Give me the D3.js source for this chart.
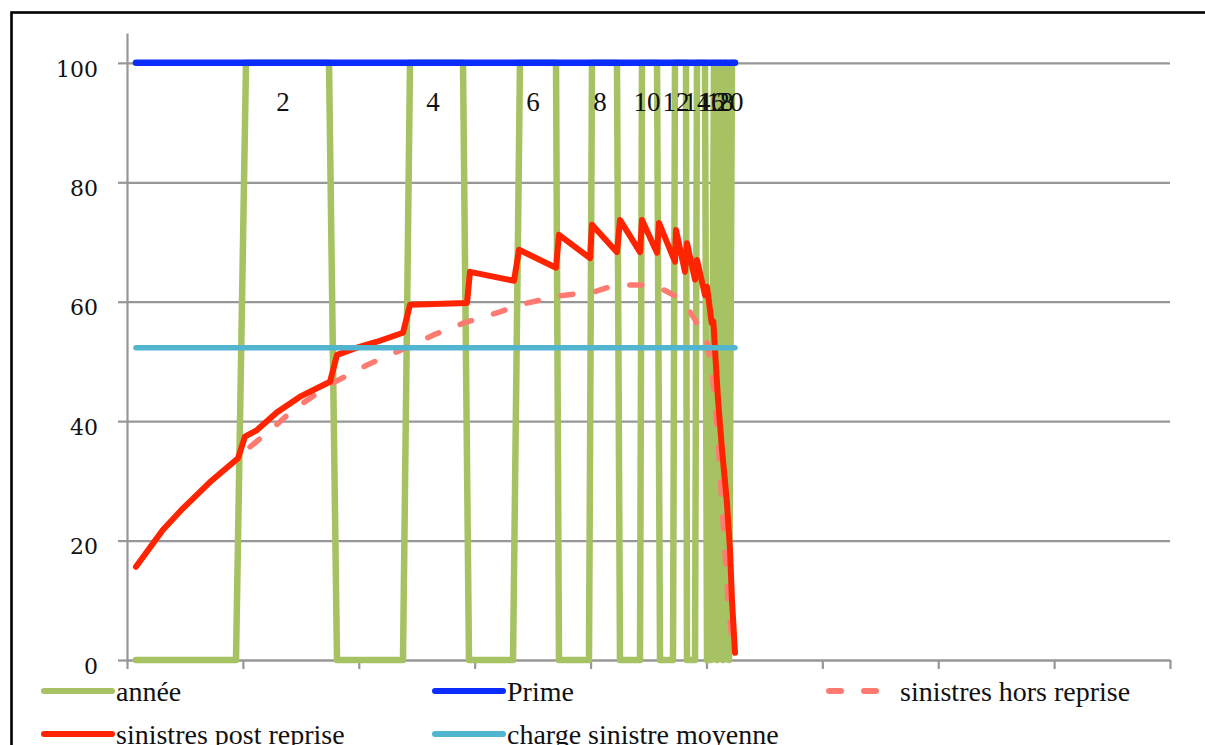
<!DOCTYPE html>
<html>
<head>
<meta charset="utf-8">
<script src="https://cdn.jsdelivr.net/npm/d3@7"></script>
<style>
  html, body { margin: 0; padding: 0; background: #fff; }
  svg { display: block; }
</style>
</head>
<body>
<svg id="chart" width="1205" height="745"></svg>
<script>
// Y axis ticks and legend labels
const yTicks = [0, 20, 40, 60, 80, 100];
const legendLabels = ["année", "Prime", "sinistres hors reprise", "sinistres post reprise", "charge sinistre moyenne"];

// "année": alternating 0 / 100 plateaus marking each year [t, value]
const annee = [
  [1.55, 0], [18.81, 0], [20.54, 100], [34.86, 100], [36.24, 0], [47.63, 0],
  [48.84, 100], [57.99, 100], [59.02, 0], [66.62, 0], [67.82, 100], [74.04, 100],
  [74.55, 0], [79.73, 0], [80.25, 100], [84.56, 100], [85.08, 0], [88.53, 0],
  [88.88, 100], [91.47, 100], [91.99, 0], [94.23, 0], [94.57, 100], [96.47, 100],
  [96.64, 0], [98.03, 0], [98.37, 100], [99.75, 100], [100.10, 0], [100.79, 0],
  [101.30, 100], [101.82, 0], [102.34, 100], [102.86, 0], [103.37, 100],
  [103.89, 0], [104.41, 100], [104.93, 100]
];

// Even year numbers shown on the "année" plateaus, with their t position
const yearNumbers = [2, 4, 6, 8, 10, 12, 14, 16, 18, 20];
const yearNumberT = [26.92, 52.81, 70.07, 81.63, 89.74, 94.74, 98.37, 100.79, 102.35, 104.07];

// "Prime": constant premium level
const primeT = [1.55, 104.93];
const primeValues = [100, 100];

// "charge sinistre moyenne": constant average claim charge
const chargeT = [1.55, 104.93];
const chargeValues = [52.3, 52.3];

// "sinistres post reprise" [t, value]
const postReprise = [
  [1.55, 15.6], [6.21, 21.8], [9.66, 25.4], [14.32, 29.8], [19.16, 33.8],
  [20.36, 37.4], [22.44, 38.5], [25.89, 41.5], [29.86, 44.1], [35.04, 46.6],
  [36.25, 51.1], [39.69, 52.3], [43.14, 53.3], [47.63, 54.8],
  [48.84, 59.5], [58.68, 59.8],
  [59.19, 65.0], [66.79, 63.5],
  [67.65, 68.7], [74.04, 65.7],
  [74.55, 71.2], [79.90, 67.3],
  [80.25, 72.9], [84.56, 68.3],
  [85.08, 73.7], [88.53, 68.3],
  [88.88, 73.7], [91.47, 68.2],
  [91.81, 73.2], [94.57, 66.7],
  [94.75, 72.0], [96.30, 65.0],
  [96.64, 69.8], [98.02, 63.7],
  [98.37, 67.0], [99.75, 61.1],
  [100.10, 62.5], [100.91, 56.4],
  [101.19, 56.7], [101.48, 51.9],
  [102.00, 43.6], [102.69, 35.2], [103.50, 26.8], [104.07, 18.4], [104.41, 10.0], [104.93, 1.2]
];

// "sinistres hors reprise" [t, value]
const horsReprise = [
  [21.23, 35.7], [24.16, 38.0], [26.40, 39.9], [28.65, 41.9], [31.24, 43.6],
  [35.55, 46.4], [41.42, 49.4], [44.18, 50.6], [49.36, 52.8], [52.81, 54.4],
  [57.99, 56.4], [64.37, 58.3], [67.82, 59.5], [74.73, 61.0], [80.42, 61.6],
  [83.70, 62.6], [86.29, 62.8], [89.74, 62.8], [91.99, 62.3], [94.57, 61.0],
  [96.64, 59.1], [98.02, 57.0], [99.23, 54.4], [100.10, 53.1], [101.13, 46.9],
  [102.00, 36.9], [102.86, 23.5], [103.72, 10.1], [104.59, 1.7]
];

const colors = {
  annee: "#a6c263",
  prime: "#0a2cff",
  hors: "#ff7a70",
  post: "#ff2400",
  charge: "#52b5cf",
  grid: "#979797"
};

const svg = d3.select("#chart");

// outer frame
svg.append("rect")
  .attr("x", 11.5).attr("y", 12.5)
  .attr("width", 1300).attr("height", 900)
  .attr("fill", "#fff")
  .attr("stroke", "#000")
  .attr("stroke-width", 2.6);

const plot = { left: 127, right: 1170, top: 33, bottom: 660 };

const x = d3.scaleLinear().domain([0, 180]).range([plot.left, plot.right]);
const y = d3.scaleLinear().domain([0, 105]).range([plot.bottom, plot.top]);

// horizontal gridlines
const grid = svg.append("g")
  .attr("transform", `translate(${plot.left},0)`)
  .call(d3.axisLeft(y).tickValues(yTicks).tickSize(-(plot.right - plot.left)).tickFormat(""));
grid.select(".domain").remove();
grid.selectAll("line").attr("stroke", colors.grid).attr("stroke-width", 2.2);

// y axis
const yAxis = svg.append("g")
  .attr("transform", `translate(${plot.left},0)`)
  .call(d3.axisLeft(y).tickValues(yTicks).tickSize(9).tickSizeOuter(0).tickPadding(20));
yAxis.select(".domain").attr("stroke", colors.grid).attr("stroke-width", 2.2);
yAxis.selectAll("line").attr("stroke", colors.grid).attr("stroke-width", 2.2);
yAxis.selectAll("text")
  .attr("font-family", "'DejaVu Serif', serif")
  .attr("font-size", 22)
  .attr("fill", "#111")
  .attr("dy", "0.6em");

// x axis (ticks only)
const xAxis = svg.append("g")
  .attr("transform", `translate(0,${plot.bottom})`)
  .call(d3.axisBottom(x).tickValues(d3.range(0, 181, 20)).tickSize(9).tickSizeOuter(0).tickFormat(""));
xAxis.select(".domain").attr("stroke", colors.grid).attr("stroke-width", 2.2);
xAxis.selectAll("line").attr("stroke", colors.grid).attr("stroke-width", 2.2);

const line = d3.line().x(d => x(d[0])).y(d => y(d[1]));

function drawSeries(data, color, width, dash) {
  const p = svg.append("path")
    .datum(data)
    .attr("d", line)
    .attr("fill", "none")
    .attr("stroke", color)
    .attr("stroke-width", width)
    .attr("stroke-linejoin", "round")
    .attr("stroke-linecap", "round");
  if (dash) p.attr("stroke-dasharray", dash);
  return p;
}

// series, in legend order
drawSeries(annee, colors.annee, 6.5);
drawSeries(primeT.map((t, i) => [t, primeValues[i]]), colors.prime, 6.5);
drawSeries(horsReprise, colors.hors, 5.5, "12,23");
drawSeries(postReprise, colors.post, 6);
drawSeries(chargeT.map((t, i) => [t, chargeValues[i]]), colors.charge, 5.5);

// year numbers on the "année" plateaus
svg.append("g")
  .selectAll("text")
  .data(yearNumbers)
  .join("text")
  .attr("x", (d, i) => x(yearNumberT[i]))
  .attr("y", y(100) + 48)
  .attr("text-anchor", "middle")
  .attr("font-family", "'Liberation Serif', serif")
  .attr("font-size", 27)
  .attr("fill", "#111")
  .text(d => d);

// legend
const legendItems = [
  { label: legendLabels[0], color: colors.annee, lx: 44, ly: 691, dash: null },
  { label: legendLabels[1], color: colors.prime, lx: 435, ly: 691, dash: null },
  { label: legendLabels[2], color: colors.hors, lx: 829, ly: 691, dash: "12,23", len: 52 },
  { label: legendLabels[3], color: colors.post, lx: 44, ly: 734, dash: null },
  { label: legendLabels[4], color: colors.charge, lx: 435, ly: 734, dash: null }
];

const legend = svg.append("g");
legendItems.forEach(item => {
  const len = item.len || 68;
  const l = legend.append("line")
    .attr("x1", item.lx).attr("x2", item.lx + len)
    .attr("y1", item.ly).attr("y2", item.ly)
    .attr("stroke", item.color)
    .attr("stroke-width", 6)
    .attr("stroke-linecap", "round");
  if (item.dash) l.attr("stroke-dasharray", item.dash);
  legend.append("text")
    .attr("x", item.dash ? 900 : item.lx + 72)
    .attr("y", item.ly + 10)
    .attr("font-family", "'Liberation Serif', serif")
    .attr("font-size", 28)
    .attr("fill", "#111")
    .text(item.label);
});
</script>
</body>
</html>
